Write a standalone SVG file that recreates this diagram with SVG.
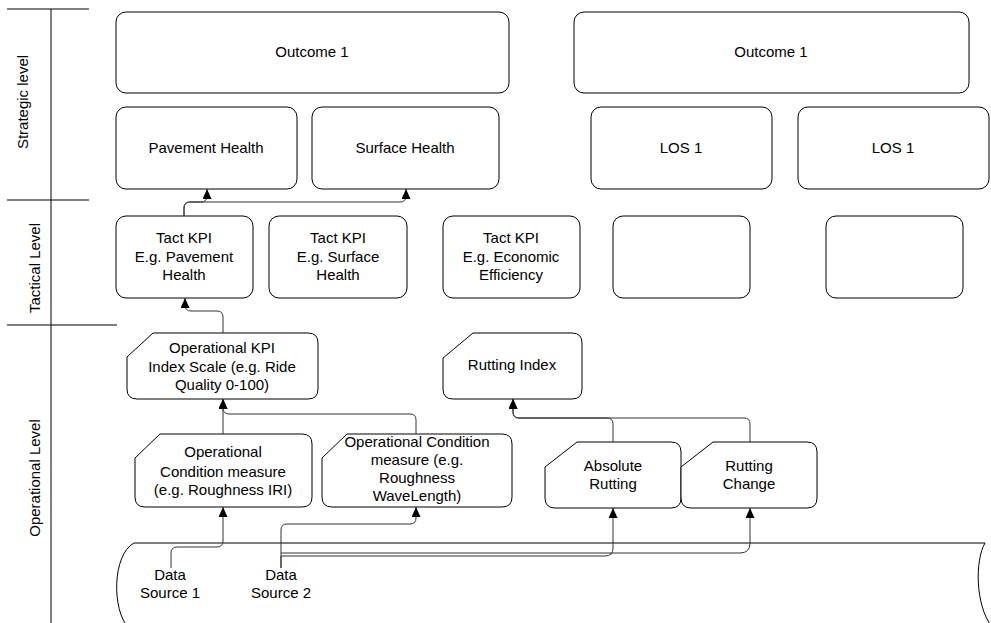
<svg xmlns="http://www.w3.org/2000/svg" width="991" height="623" viewBox="0 0 991 623">
  <style>
    .box { fill: #fff; stroke: #000; stroke-width: 1; }
    .lane { stroke: #000; stroke-width: 1; fill: none; }
    .wire { stroke: #333; stroke-width: 1; fill: none; marker-end: url(#arrow); }
    text { font-family: "Liberation Sans", Arial, sans-serif; font-size: 15px; fill: #000; text-anchor: middle; }
  </style>
  <defs>
    <marker id="arrow" markerUnits="userSpaceOnUse" markerWidth="10" markerHeight="10" refX="10" refY="4.5" orient="auto">
      <path d="M0,0 L10,4.5 L0,9 z" fill="#000"/>
    </marker>
  </defs>

  <rect width="991" height="623" fill="#fff"/>

  <!-- level swimlane axis -->
  <g id="levels">
    <line class="lane" x1="51" y1="9" x2="51" y2="623"/>
    <line class="lane" x1="7" y1="9" x2="89" y2="9"/>
    <line class="lane" x1="7" y1="200" x2="89" y2="200"/>
    <line class="lane" x1="7" y1="325" x2="117" y2="325"/>
    <text transform="translate(28,102) rotate(-90)">Strategic level</text>
    <text transform="translate(40,268) rotate(-90)">Tactical Level</text>
    <text transform="translate(40,478) rotate(-90)">Operational Level</text>
  </g>

  <!-- data store drum -->
  <g id="data-store">
    <path d="M134,543 H985 C975,560 975,605 992,627 L992,640 H128 L128,627 C112,610 112,555 134,543 Z" fill="#fff"/>
    <path class="lane" d="M134,543 H985"/>
    <path class="lane" d="M134,543 C112,555 112,610 128,627"/>
    <path class="lane" d="M985,543 C975,560 975,605 992,627"/>
    <text x="170" y="580">Data</text>
    <text x="170" y="598">Source 1</text>
    <text x="281" y="580">Data</text>
    <text x="281" y="598">Source 2</text>
  </g>

  <!-- strategic level -->
  <g id="outcome-a">
    <rect class="box" x="116" y="12" width="393" height="81" rx="10"/>
    <text x="312" y="57">Outcome 1</text>
  </g>
  <g id="outcome-b">
    <rect class="box" x="574" y="12" width="395" height="81" rx="10"/>
    <text x="771" y="57">Outcome 1</text>
  </g>
  <g id="pavement-health">
    <rect class="box" x="116" y="107" width="181" height="82" rx="10"/>
    <text x="206" y="153">Pavement Health</text>
  </g>
  <g id="surface-health">
    <rect class="box" x="312" y="107" width="187" height="82" rx="10"/>
    <text x="405" y="153">Surface Health</text>
  </g>
  <g id="los-a">
    <rect class="box" x="591" y="107" width="181" height="82" rx="10"/>
    <text x="681" y="153">LOS 1</text>
  </g>
  <g id="los-b">
    <rect class="box" x="798" y="107" width="191" height="82" rx="10"/>
    <text x="893" y="153">LOS 1</text>
  </g>

  <!-- tactical level -->
  <g id="tact-pavement">
    <rect class="box" x="116" y="216" width="137" height="82" rx="10"/>
    <text x="184" y="243">Tact KPI</text>
    <text x="184" y="262">E.g. Pavement</text>
    <text x="184" y="280">Health</text>
  </g>
  <g id="tact-surface">
    <rect class="box" x="269" y="216" width="138" height="82" rx="10"/>
    <text x="338" y="243">Tact KPI</text>
    <text x="338" y="262">E.g. Surface</text>
    <text x="338" y="280">Health</text>
  </g>
  <g id="tact-economic">
    <rect class="box" x="443" y="216" width="137" height="82" rx="10"/>
    <text x="511" y="243">Tact KPI</text>
    <text x="511" y="262">E.g. Economic</text>
    <text x="511" y="280">Efficiency</text>
  </g>
  <g id="tact-blank-a">
    <rect class="box" x="613" y="216" width="137" height="82" rx="10"/>
  </g>
  <g id="tact-blank-b">
    <rect class="box" x="826" y="216" width="137" height="82" rx="10"/>
  </g>

  <!-- operational level (cut-corner cards) -->
  <g id="op-kpi">
    <path class="box" d="M153,333 H308 Q318,333 318,343 V389 Q318,399 308,399 H137 Q127,399 127,389 V357 Z"/>
    <text x="222" y="353">Operational KPI</text>
    <text x="222" y="372">Index Scale (e.g. Ride</text>
    <text x="222" y="390">Quality 0-100)</text>
  </g>
  <g id="rutting-index">
    <path class="box" d="M473,333 H572 Q582,333 582,343 V389 Q582,399 572,399 H453 Q443,399 443,389 V358 Z"/>
    <text x="512" y="370">Rutting Index</text>
  </g>
  <g id="op-condition-iri">
    <path class="box" d="M160,434 H302 Q312,434 312,444 V497 Q312,507 302,507 H145 Q135,507 135,497 V458 Z"/>
    <text x="223" y="457">Operational</text>
    <text x="223" y="477">Condition measure</text>
    <text x="223" y="495">(e.g. Roughness IRI)</text>
  </g>
  <g id="op-condition-wavelength">
    <path class="box" d="M347,434 H502 Q512,434 512,444 V497 Q512,507 502,507 H332 Q322,507 322,497 V458 Z"/>
    <text x="417" y="447">Operational Condition</text>
    <text x="417" y="465">measure (e.g.</text>
    <text x="417" y="483">Roughness</text>
    <text x="417" y="501">WaveLength)</text>
  </g>
  <g id="absolute-rutting">
    <path class="box" d="M577,442 H671 Q681,442 681,452 V498 Q681,508 671,508 H555 Q545,508 545,498 V467 Z"/>
    <text x="613" y="471">Absolute</text>
    <text x="613" y="489">Rutting</text>
  </g>
  <g id="rutting-change">
    <path class="box" d="M713,442 H807 Q817,442 817,452 V498 Q817,508 807,508 H691 Q681,508 681,498 V467 Z"/>
    <text x="749" y="471">Rutting</text>
    <text x="749" y="489">Change</text>
  </g>

  <!-- connectors -->
  <g id="connectors">
    <path class="wire" d="M184,216 V208 Q184,202 190,202 H201 Q207,202 207,196 V189"/>
    <path class="wire" d="M184,216 V208 Q184,202 190,202 H400 Q406,202 406,196 V189"/>
    <path class="wire" d="M223,333 V317 Q223,311 217,311 H191 Q185,311 185,305 V298"/>
    <path class="wire" d="M223,434 V399"/>
    <path class="wire" d="M416,434 V420 Q416,414 410,414 H229 Q223,414 223,408 V399"/>
    <path class="wire" d="M613,442 V424 Q613,418 607,418 H519 Q513,418 513,412 V399"/>
    <path class="wire" d="M750,442 V424 Q750,418 744,418 H519 Q513,418 513,412 V399"/>
    <path class="wire" d="M171,568 V553 Q171,547 177,547 H217 Q223,547 223,541 V507"/>
    <path class="wire" d="M281,568 V530 Q281,524 287,524 H410 Q416,524 416,518 V507"/>
    <path class="wire" d="M281,568 V556 H605 Q613,556 613,548 V508"/>
    <path class="wire" d="M281,553 H740 Q750,553 750,543 V508"/>
  </g>
</svg>
